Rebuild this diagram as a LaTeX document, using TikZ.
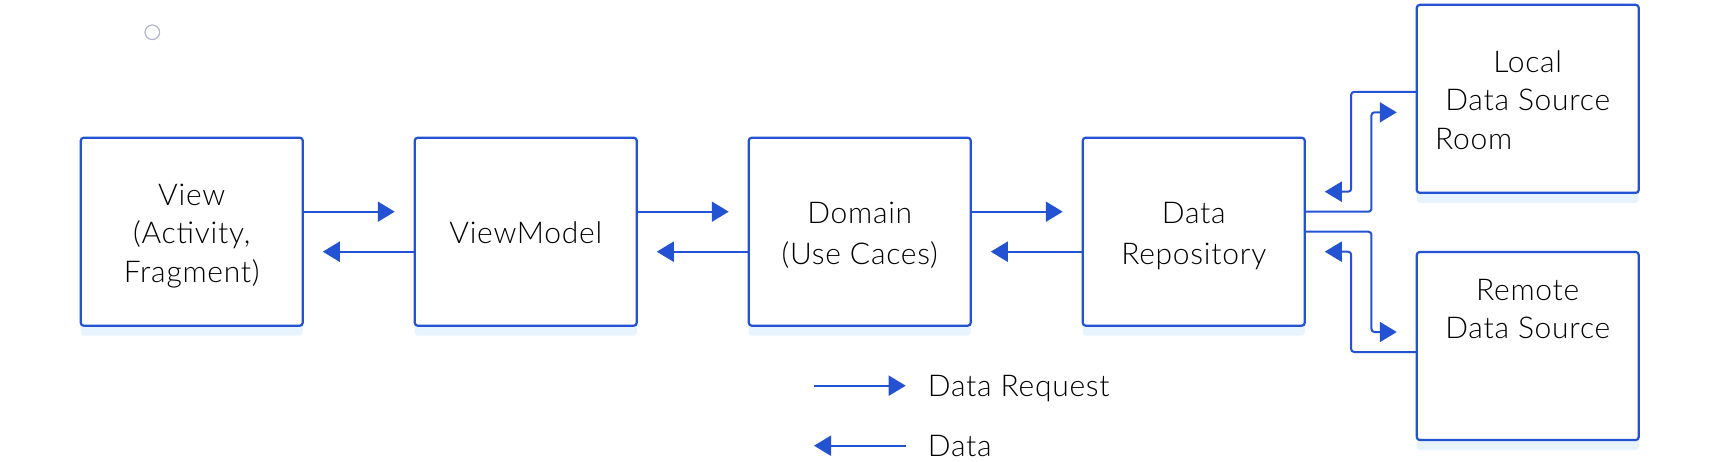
\documentclass[tikz,border=0pt]{standalone}
\usepackage{fontspec}
\setmainfont{Lato}[UprightFont={* Light}, LetterSpace=2.5]
\usetikzlibrary{positioning, arrows.meta, shadows}
\definecolor{archblue}{RGB}{35,82,210}
\definecolor{archshadow}{RGB}{232,244,253}
\definecolor{dotgray}{RGB}{178,178,204}
\newcommand{\linestrut}{\rule[-8pt]{0pt}{40pt}}

\begin{document}
\begin{tikzpicture}[x=1pt, y=-1pt, node distance=112pt,
    >={Triangle[length=17pt, width=20pt]},
    font=\fontsize{30}{38.5}\selectfont,
    layer/.style={draw=archblue, line width=2.2pt, fill=white, rounded corners=3pt,
      outer sep=0pt, minimum width=222pt, minimum height=188pt, align=center,
      drop shadow={shadow xshift=0pt, shadow yshift=-10pt, fill=archshadow, opacity=1}},
    legend/.style={anchor=base west, inner sep=0pt},
    flow/.style={->, archblue, line width=2pt}]
  \useasboundingbox (0,0) rectangle (1720,462);

  \draw[dotgray, line width=1.2pt] (152.3,32.3) circle[radius=7.3pt];

  \node[layer] (view) at (191.75,231.7) {\linestrut View\\(Activity,\\Fragment)\linestrut};
  \node[layer] (vm) [right = of view] {\linestrut ViewModel\linestrut};
  \node[layer] (domain) [right = of vm] {\linestrut Domain\\(Use Caces)\linestrut};
  \node[layer] (repo) [right = of domain] {\linestrut Data\\Repository\linestrut};
  \node[layer] (local) [right = of repo, yshift=132.85pt] {\linestrut Local\\Data Source\\Room\hspace*{108pt}\linestrut};
  \node[layer] (remote) [right = of repo, yshift=-114.3pt] {\linestrut Remote\\Data Source\\\mbox{}\\\linestrut};

  \path[flow]
    ([yshift=20pt]view.east) edge ([shift={(-20pt,20pt)}]vm.west)
    ([yshift=-20pt]vm.west) edge ([shift={(20pt,-20pt)}]view.east)
    ([yshift=20pt]vm.east) edge ([shift={(-20pt,20pt)}]domain.west)
    ([yshift=-20pt]domain.west) edge ([shift={(20pt,-20pt)}]vm.east)
    ([yshift=20pt]domain.east) edge ([shift={(-20pt,20pt)}]repo.west)
    ([yshift=-20pt]repo.west) edge ([shift={(20pt,-20pt)}]domain.east)
  ;

  \draw[flow, rounded corners=3pt] ([yshift=20pt]repo.east) -- ++(66.7,0) |- ([shift={(-20pt,-13.5pt)}]local.west);
  \draw[flow, rounded corners=3pt] ([yshift=7pt]local.west) -- ++(-65.6,0) |- ([shift={(20pt,40pt)}]repo.east);
  \draw[flow, rounded corners=3pt] (repo.east) -- ++(66.7,0) |- ([shift={(-20pt,14pt)}]remote.west);
  \draw[flow, rounded corners=3pt] ([yshift=-6pt]remote.west) -- ++(-65.6,0) |- ([shift={(20pt,-20pt)}]repo.east);

  % legend
  \coordinate (reqfrom) at (814,385.7);
  \coordinate (reqto) at (905.7,385.7);
  \coordinate (datfrom) at (905.7,445.7);
  \coordinate (datto) at (814,445.7);
  \node[legend] (reqlabel) at (927.7,396) {Data Request};
  \node[legend] (datlabel) at (927.7,456) {Data};
  \draw[flow] (reqfrom) -- (reqto);
  \draw[flow] (datfrom) -- (datto);
\end{tikzpicture}
\end{document}
